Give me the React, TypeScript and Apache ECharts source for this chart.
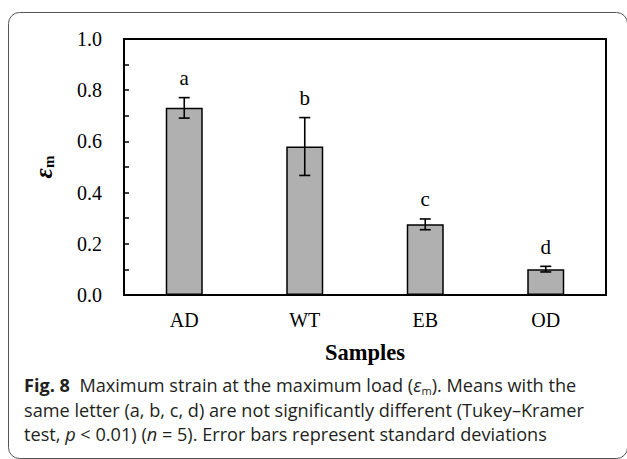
import React, { useEffect, useRef } from "react";
import * as echarts from "echarts";

const categories = ["AD", "WT", "EB", "OD"];
const means = [0.731, 0.58, 0.276, 0.101];
const sds = [0.04, 0.113, 0.021, 0.011];
const letters = ["a", "b", "c", "d"];
const xAxisTitle = "Samples";
const captionLine1 = ["Fig. 8", "  Maximum strain at the maximum load (", "ε", "m", "). Means with the"];
const captionLine2 = "same letter (a, b, c, d) are not significantly different (Tukey–Kramer";
const captionLine3 = ["test, ", "p", " < 0.01) (", "n", " = 5). Error bars represent standard deviations"];

const serif = "'Liberation Serif', 'Times New Roman', serif";
const sans = "'Open Sans', 'Noto Sans', sans-serif";
const ink = "#231f20";

function measure(text: string, font: string): number {
  const c = document.createElement("canvas").getContext("2d");
  if (!c) return text.length * 9;
  c.font = font;
  return c.measureText(text).width;
}

export default function App() {
  const ref = useRef<HTMLDivElement>(null);
  useEffect(() => {
    if (!ref.current) return;
    const chart = echarts.init(ref.current, null, { renderer: "svg" });
    const capSize = 18;
    const capScale = 560 / measure(captionLine2, `${capSize}px 'Open Sans'`);
    const errData = categories.map((_, i) => [i, means[i] - sds[i], means[i] + sds[i]]);
    const capRich = {
      n: { fontFamily: sans, fontSize: capSize, fill: ink, color: ink, lineHeight: 22 },
      b: { fontFamily: sans, fontSize: capSize, fontWeight: "bold", fill: ink, color: ink, lineHeight: 22 },
      i: { fontFamily: sans, fontSize: capSize, fontStyle: "italic", fill: ink, color: ink, lineHeight: 22 },
      sub: { fontFamily: sans, fontSize: 11, fill: ink, color: ink, lineHeight: 11, verticalAlign: "bottom" },
    };
    chart.setOption({
      animation: false,
      grid: {
        left: 124,
        right: 21,
        top: 39,
        bottom: 164,
        show: true,
        borderColor: "#000",
        borderWidth: 2,
        backgroundColor: "transparent",
      },
      xAxis: {
        type: "category",
        data: categories,
        axisLine: { show: true, lineStyle: { color: "#000", width: 2 } },
        axisTick: { show: false },
        axisLabel: { color: "#000", fontFamily: serif, fontSize: 20, margin: 15 },
        name: xAxisTitle,
        nameLocation: "middle",
        nameGap: 46,
        nameTextStyle: { fontFamily: serif, fontSize: 22.5, fontWeight: "bold", color: "#000" },
      },
      yAxis: {
        type: "value",
        min: 0,
        max: 1,
        interval: 0.2,
        axisLine: { show: true, lineStyle: { color: "#000", width: 2 } },
        axisTick: { show: true, inside: true, length: 5, lineStyle: { color: "#000", width: 1.5 } },
        minorTick: { show: true, splitNumber: 2, length: 5, lineStyle: { color: "#000", width: 1.5 } },
        splitLine: { show: false },
        axisLabel: {
          formatter: (v: number) => v.toFixed(1),
          fontFamily: serif,
          fontSize: 20,
          color: "#000",
          margin: 22,
        },
        name: "{e|ε}{sub|m}",
        nameLocation: "middle",
        nameGap: 68,
        nameRotate: 90,
        nameTextStyle: {
          rich: {
            e: { fontFamily: serif, fontSize: 25, fontStyle: "italic", fontWeight: "bold", color: "#000", lineHeight: 25 },
            sub: { fontFamily: serif, fontSize: 15, fontWeight: "bold", color: "#000", lineHeight: 15, verticalAlign: "bottom" },
          },
        },
      },
      series: [
        {
          type: "bar",
          data: means,
          barWidth: 37,
          itemStyle: { color: "#b0b0b0", borderColor: "#000", borderWidth: 1.5 },
        },
        {
          type: "custom",
          data: errData,
          encode: { x: 0, y: [1, 2] },
          z: 5,
          renderItem: (params: any, api: any) => {
            const x = api.value(0);
            const lo = api.coord([x, api.value(1)]);
            const hi = api.coord([x, api.value(2)]);
            const half = 5.5;
            const style = { stroke: "#000", lineWidth: 1.6 };
            return {
              type: "group",
              children: [
                { type: "line", shape: { x1: lo[0], y1: lo[1], x2: hi[0], y2: hi[1] }, style },
                { type: "line", shape: { x1: lo[0] - half, y1: lo[1], x2: lo[0] + half, y2: lo[1] }, style },
                { type: "line", shape: { x1: hi[0] - half, y1: hi[1], x2: hi[0] + half, y2: hi[1] }, style },
                {
                  type: "text",
                  x: hi[0],
                  y: hi[1] - 9,
                  style: {
                    text: letters[params.dataIndex],
                    fontFamily: serif,
                    fontSize: 21,
                    fill: "#000",
                    align: "center",
                    verticalAlign: "bottom",
                  },
                },
              ],
            };
          },
        },
      ],
      graphic: [
        {
          type: "rect",
          shape: { x: 8.5, y: 12.5, width: 619, height: 446, r: 11 },
          style: { fill: "none", stroke: "#555", lineWidth: 1 },
          silent: true,
        },
        {
          type: "text",
          x: 24,
          y: 385,
          scaleX: capScale,
          style: {
            text: `{b|${captionLine1[0]}}{n|${captionLine1[1]}}{i|${captionLine1[2]}}{sub|${captionLine1[3]}}{n|${captionLine1[4]}}`,
            rich: capRich,
            fill: ink,
            verticalAlign: "middle",
          },
        },
        {
          type: "text",
          x: 24,
          y: 410,
          scaleX: capScale,
          style: {
            text: `{n|${captionLine2}}`,
            rich: capRich,
            fill: ink,
            verticalAlign: "middle",
          },
        },
        {
          type: "text",
          x: 24,
          y: 434,
          scaleX: capScale,
          style: {
            text: `{n|${captionLine3[0]}}{i|${captionLine3[1]}}{n|${captionLine3[2]}}{i|${captionLine3[3]}}{n|${captionLine3[4]}}`,
            rich: capRich,
            fill: ink,
            verticalAlign: "middle",
          },
        },
      ],
    });
    return () => chart.dispose();
  }, []);
  return (
    <div
      ref={ref}
      style={{ position: "absolute", left: 0, top: 0, width: 627, height: 459, background: "#fff" }}
    />
  );
}
